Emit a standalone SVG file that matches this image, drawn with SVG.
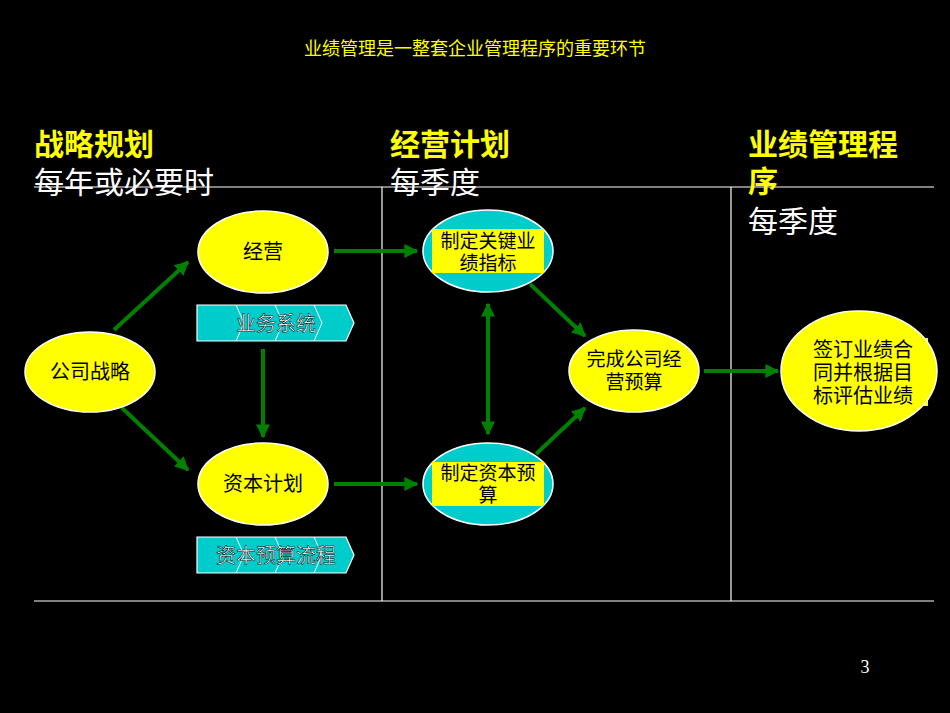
<svg xmlns="http://www.w3.org/2000/svg" width="950" height="713" viewBox="0 0 950 713">
<defs>
<style>
.t{font-family:"Liberation Sans","Noto Sans CJK SC",sans-serif;fill:#000}
.h{font-family:"Liberation Sans","Noto Sans CJK SC",sans-serif;font-size:30px;font-weight:bold;fill:#ffff00}
.s{font-family:"Liberation Sans","Noto Sans CJK SC",sans-serif;font-size:30px;fill:#fff}
.y{fill:#ffff00;stroke:#fff;stroke-width:1.5}
.c{fill:#00cccc;stroke:#fff;stroke-width:1.5}
.ln{stroke:#fff;stroke-width:1.2}
.a{stroke:#008000;stroke-width:4;fill:none;marker-end:url(#m)}
.b{fill:#00cccc;stroke:#fff;stroke-width:1.2}
.bt{font-family:"Liberation Sans","Noto Sans CJK SC",sans-serif;font-size:20px;fill:#fff;stroke:#000;stroke-width:0.5}
</style>
<marker id="m" viewBox="0 0 10 10" refX="9" refY="5" markerWidth="3.5" markerHeight="3.5" orient="auto-start-reverse"><path d="M0,0L10,5L0,10z" fill="#008000"/></marker>
</defs>
<rect width="950" height="713" fill="#000"/>
<text x="475" y="55" text-anchor="middle" style="font-family:'Liberation Serif','Noto Sans CJK SC',serif;font-size:18px;fill:#ffff00">业绩管理是一整套企业管理程序的重要环节</text>
<g id="frame">
<line class="ln" x1="34" y1="187" x2="934" y2="187"/>
<line class="ln" x1="34" y1="601" x2="934" y2="601"/>
<line class="ln" x1="382" y1="187" x2="382" y2="601"/>
<line class="ln" x1="731" y1="187" x2="731" y2="601"/>
</g>
<text class="h" x="34" y="155">战略规划</text>
<text class="s" x="34" y="193">每年或必要时</text>
<text class="h" x="390" y="155">经营计划</text>
<text class="s" x="390" y="193">每季度</text>
<text class="h" x="748" y="155">业绩管理程</text>
<text class="h" x="748" y="192">序</text>
<text class="s" x="748" y="232">每季度</text>
<g id="connectors">
<line class="a" x1="114" y1="330" x2="188" y2="262"/>
<line class="a" x1="122" y1="408" x2="188" y2="470"/>
<line class="a" x1="334" y1="251" x2="417" y2="251"/>
<line class="a" x1="334" y1="484" x2="417" y2="484"/>
<line class="a" x1="263" y1="349" x2="263" y2="437"/>
<line class="a" x1="488" y1="304" x2="488" y2="434" marker-start="url(#m)"/>
<line class="a" x1="530" y1="284" x2="585" y2="336"/>
<line class="a" x1="536" y1="454" x2="585" y2="408"/>
<line class="a" x1="704" y1="371" x2="778" y2="371"/>
</g>
<g id="n1"><ellipse class="y" cx="90" cy="372" rx="65" ry="40"/><text class="t" x="90" y="379" text-anchor="middle" font-size="20">公司战略</text></g>
<g id="n2"><ellipse class="y" cx="263" cy="252" rx="65" ry="41"/><text class="t" x="263" y="259" text-anchor="middle" font-size="20">经营</text></g>
<g id="n3"><ellipse class="y" cx="263" cy="484" rx="65" ry="41"/><text class="t" x="263" y="491" text-anchor="middle" font-size="20">资本计划</text></g>
<g id="n4"><ellipse class="c" cx="488" cy="251" rx="65" ry="41"/><rect x="432" y="229" width="112" height="44" fill="#ffff00"/><text class="t" x="488" y="248" text-anchor="middle" font-size="19">制定关键业</text><text class="t" x="488" y="270" text-anchor="middle" font-size="19">绩指标</text></g>
<g id="n5"><ellipse class="c" cx="488" cy="484" rx="65" ry="41"/><rect x="432" y="462" width="112" height="44" fill="#ffff00"/><text class="t" x="488" y="480" text-anchor="middle" font-size="19">制定资本预</text><text class="t" x="488" y="502" text-anchor="middle" font-size="19">算</text></g>
<g id="n6"><ellipse class="y" cx="634" cy="371" rx="65" ry="41"/><text class="t" x="634" y="366" text-anchor="middle" font-size="19">完成公司经</text><text class="t" x="634" y="389" text-anchor="middle" font-size="19">营预算</text></g>
<g id="n7"><rect x="808" y="338" width="120" height="68" fill="#ffff00"/><ellipse class="y" cx="859" cy="371" rx="78" ry="60"/><text class="t" x="863" y="357" text-anchor="middle" font-size="20">签订业绩合</text><text class="t" x="863" y="380" text-anchor="middle" font-size="20">同并根据目</text><text class="t" x="863" y="403" text-anchor="middle" font-size="20">标评估业绩</text></g>
<g id="bar1"><path class="b" d="M197,305H346L354,323L346,341H197Z"/><path d="M236,305L244,323L236,341M275,305L283,323L275,341M314,305L322,323L314,341" stroke="#fff" fill="none" stroke-width="1"/><text class="bt" x="276" y="331" text-anchor="middle">业务系统</text></g>
<g id="bar2"><path class="b" d="M197,537H346L354,555L346,573H197Z"/><path d="M236,537L244,555L236,573M275,537L283,555L275,573M314,537L322,555L314,573" stroke="#fff" fill="none" stroke-width="1"/><text class="bt" x="276" y="563" text-anchor="middle">资本预算流程</text></g>
<text x="865" y="673" text-anchor="middle" style="font-family:'Liberation Serif',serif;font-size:18px;fill:#fff">3</text>
</svg>
